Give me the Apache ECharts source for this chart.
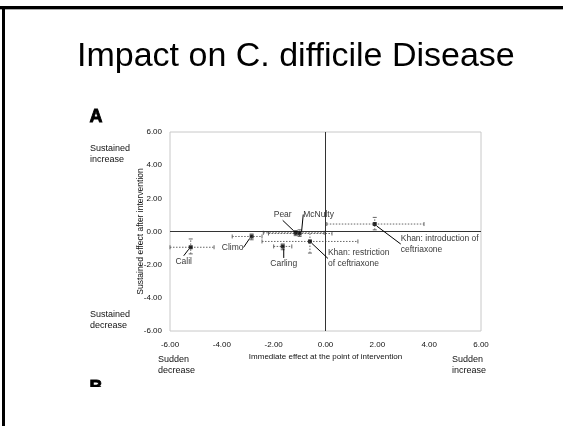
<!DOCTYPE html>
<html><head><meta charset="utf-8">
<script src="https://cdn.jsdelivr.net/npm/echarts@6/dist/echarts.min.js"></script>
<style>html,body{margin:0;padding:0;background:#fff}#c{width:563px;height:426px}</style>
</head><body><div id="c"></div>
<script>
const names = ['Calil','Climo','Pear','McNulty','Carling','Khan: restriction\nof ceftriaxone','Khan: introduction of\nceftriaxone'];
const immediate = [-5.2, -2.85, -1.15, -1.0, -1.65, -0.6, 1.9];
const sustained = [-0.95, -0.3, -0.08, -0.12, -0.9, -0.6, 0.45];
const immLow  = [-6.0, -3.6, -2.4, -2.2, -2.0, -2.45, 0.05];
const immHigh = [-4.3, -2.45, -0.05, 0.25, -1.3, 1.25, 3.8];
const susLow  = [-1.35, -0.5, -0.25, -0.3, -1.1, -1.3, 0.1];
const susHigh = [-0.45, -0.15, 0.05, 0.1, -0.75, 0.0, 0.85];
const xTicks = [-6, -4, -2, 0, 2, 4, 6];
const yTicks = [-6, -4, -2, 0, 2, 4, 6];

// label placement (pixels relative to point): dx, dy, align
const labelPlace = [[-7,14,'center'],[-19,11,'center'],[-13,-18,'center'],[19,-19,'center'],[1,17,'center'],[18,17,'left'],[26,20,'left']];
const FONT = 'Liberation Sans';

const chart = echarts.init(document.getElementById('c'));
const pts = names.map((n,i)=>({name:n, value:[immediate[i], sustained[i]]}));
const bars = names.map((n,i)=>[immediate[i], sustained[i], immLow[i], immHigh[i], susLow[i], susHigh[i]]);

chart.setOption({
  animation:false,
  textStyle:{fontFamily:FONT},
  grid:{left:170, right:82, top:132, bottom:95, show:true, borderColor:'#c8c8c8', borderWidth:1},
  xAxis:{type:'value', min:xTicks[0], max:xTicks[xTicks.length-1], interval:2,
    axisLine:{show:false}, axisTick:{show:false}, splitLine:{show:false},
    axisLabel:{formatter:v=>v.toFixed(2), color:'#111', fontSize:8, margin:10},
    name:'Immediate effect at the point of intervention', nameLocation:'middle', nameGap:22,
    nameMoveOverlap:false,
    nameTextStyle:{fontSize:8, color:'#111'}},
  yAxis:{type:'value', min:yTicks[0], max:yTicks[yTicks.length-1], interval:2,
    axisLine:{show:false}, axisTick:{show:false}, splitLine:{show:false},
    axisLabel:{formatter:v=>v.toFixed(2), color:'#111', fontSize:8, margin:8},
    name:'Sustained effect after intervention', nameLocation:'middle', nameGap:25,
    nameMoveOverlap:false,
    nameTextStyle:{fontSize:8.5, color:'#111'}},
  series:[
    {type:'custom', z:2, data:bars,
     renderItem:(params, api)=>{
       const l = api.coord([api.value(2), api.value(1)]);
       const r = api.coord([api.value(3), api.value(1)]);
       const b = api.coord([api.value(0), api.value(4)]);
       const t = api.coord([api.value(0), api.value(5)]);
       const st = {stroke:'#666', lineWidth:1, lineDash:[1.5,1.5]};
       const cap = {stroke:'#666', lineWidth:1};
       return {type:'group', children:[
         {type:'line', shape:{x1:l[0],y1:l[1],x2:r[0],y2:r[1]}, style:st},
         {type:'line', shape:{x1:b[0],y1:b[1],x2:t[0],y2:t[1]}, style:st},
         {type:'line', shape:{x1:l[0],y1:l[1]-2,x2:l[0],y2:l[1]+2}, style:cap},
         {type:'line', shape:{x1:r[0],y1:r[1]-2,x2:r[0],y2:r[1]+2}, style:cap},
         {type:'line', shape:{x1:b[0]-2,y1:b[1],x2:b[0]+2,y2:b[1]}, style:cap},
         {type:'line', shape:{x1:t[0]-2,y1:t[1],x2:t[0]+2,y2:t[1]}, style:cap}
       ]};
     }},
    {type:'scatter', z:5, data:pts, symbol:'rect', symbolSize:4, itemStyle:{color:'#000'},
     label:{show:true, formatter:'{b}', position:'inside', color:'#000', fontSize:8.5, lineHeight:11,
       fontFamily:FONT},
     labelLayout:p=>({dx:labelPlace[p.dataIndex][0], dy:labelPlace[p.dataIndex][1], align:labelPlace[p.dataIndex][2], verticalAlign:'middle'}),
     labelLine:{show:true, lineStyle:{color:'#000', width:1}},
     markLine:{silent:true, symbol:['none','none'], lineStyle:{color:'#333', width:1, type:'solid'},
       label:{show:false}, data:[{xAxis:0},{yAxis:0}]}
    }
  ],
  graphic:[
    {type:'rect', shape:{x:0,y:6,width:563,height:3}, style:{fill:'#000'}},
    {type:'rect', shape:{x:0,y:9,width:563,height:1}, style:{fill:'#aaa'}},
    {type:'rect', shape:{x:2,y:6,width:3,height:420}, style:{fill:'#000'}},
    {type:'text', left:77, top:40, style:{text:'Impact on C. difficile Disease', font:'34px "Liberation Sans"', fill:'#000'}},
    {type:'text', left:89, top:108, style:{text:'A', font:'900 18px "Liberation Sans"', fill:'#000', stroke:'#000', lineWidth:0.8}},
    {type:'text', left:90, top:143, style:{text:'Sustained\nincrease', font:'9px "Liberation Sans"', lineHeight:11, fill:'#111'}},
    {type:'text', left:90, top:309, style:{text:'Sustained\ndecrease', font:'9px "Liberation Sans"', lineHeight:11, fill:'#111'}},
    {type:'text', left:158, top:354, style:{text:'Sudden\ndecrease', font:'9px "Liberation Sans"', lineHeight:11, fill:'#111'}},
    {type:'text', left:452, top:354, style:{text:'Sudden\nincrease', font:'9px "Liberation Sans"', lineHeight:11, fill:'#111'}},
    {type:'text', left:89, top:379, z:1, style:{text:'B', font:'900 18px "Liberation Sans"', fill:'#000', stroke:'#000', lineWidth:0.8}},
    {type:'rect', z:10, shape:{x:80,y:387,width:40,height:30}, style:{fill:'#fff'}}
  ]
});
</script></body></html>
